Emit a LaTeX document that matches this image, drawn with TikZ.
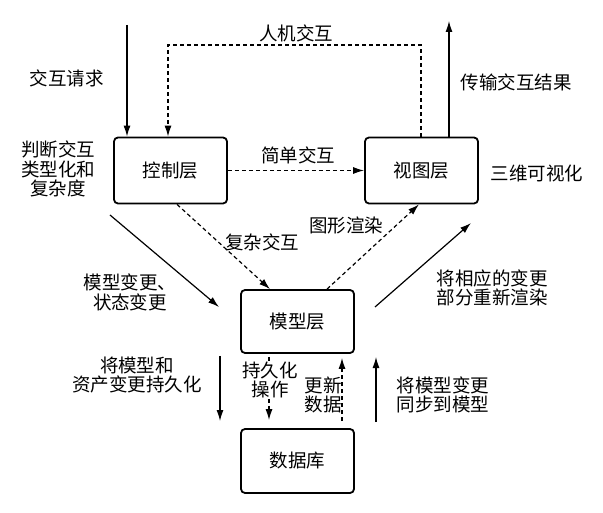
\documentclass[tikz,border=0pt]{standalone}
\usepackage{fontspec}
\setmainfont{Noto Sans CJK SC}
\usetikzlibrary{arrows.meta,calc}
\tikzset{
  nd_layer/.style={
    rectangle, rounded corners=4pt,
    draw=black, line width=1.8pt,
    minimum width=113pt, minimum height=66pt, inner sep=0pt,
    font=\fontsize{18.5}{19.5}\selectfont},
  arr/.style={-{Latex[length=11pt,width=7pt]},line width=1.2pt},
  arr_d/.style={arr,dash pattern=on 4pt off 3pt},
  lbl/.style={font=\fontsize{18.5}{19.5}\selectfont,align=center,inner sep=0pt},
}

\begin{document}
\begin{tikzpicture}[x=1pt,y=-1pt]
\useasboundingbox (0,0) rectangle (603,513);

%% layers
\node[nd_layer] at (170.5,170.5) (ctrl){控制层};
\node[nd_layer] at (421.5,170.5) (view){视图层};
\node[nd_layer,minimum height=63pt] at (297.5,321.5) (model){模型层};
\node[nd_layer,minimum height=64pt] at (297.5,461)   (db){数据库};

%% free ends
\coordinate (inTop)  at (127,25);
\coordinate (outTop) at (449,21);
\coordinate (loopL)  at (168,45);
\coordinate (loopR)  at (421,45);
\coordinate (chgA) at (110,215); \coordinate (chgB) at (219,307);
\coordinate (rndA) at (375,307); \coordinate (rndB) at (471,223);
\coordinate (perA) at (220,356); \coordinate (perB) at (220,421);
\coordinate (synA) at (376,422); \coordinate (synB) at (376,357);

%% arrows
\draw[arr] (inTop) -- (inTop |- ctrl.north);
\draw[arr_d] (loopR |- view.north) -- (loopR) -- (loopL) -- (loopL |- ctrl.north);
\draw[arr] (outTop |- view.north) -- (outTop);
\draw[arr_d] (ctrl) -- (view);
\draw[arr_d] ([xshift=6.5pt]ctrl.south) -- ([xshift=-27.5pt]model.north);
\draw[arr_d] ([xshift=29.5pt]model.north) -- ([xshift=-2.5pt]view.south);
\draw[arr] (chgA) -- (chgB);
\draw[arr] (rndA) -- (rndB);
\draw[arr] (perA) -- (perB);
\draw[arr_d,shorten <=3pt,shorten >=8pt]
  ([xshift=-28.5pt]model.south) -- ([xshift=-28.5pt]db.north);
\draw[arr_d,shorten <=7pt,shorten >=4pt]
  ([xshift=44.5pt]db.north) -- ([xshift=44.5pt]model.south);
\draw[arr] (synA) -- (synB);

%% labels
\node[lbl] at (296,33)    (tHci){人机交互};
\node[lbl] at (67,78)     (tReq){交互请求};
\node[lbl] at (516,82)    (tOut){传输交互结果};
\node[lbl] at (58,169)    (tJudge){判断交互\\类型化和\\复杂度};
\node[lbl] at (298,155)   (tSimple){简单交互};
\node[lbl] at (537,173)   (t3d){三维可视化};
\node[lbl] at (346,225)   (tRender){图形渲染};
\node[lbl] at (262,242)   (tComplex){复杂交互};
\node[lbl] at (130,292.5) (tChg){模型变更、\\状态变更};
\node[lbl] at (492,288)   (tRe){将相应的变更\\部分重新渲染};
\node[lbl] at (137,375)   (tPersist){将模型和\\资产变更持久化};
\node[lbl,fill=white] at (270,380) (tOp){持久化\\操作};
\node[lbl] at (323,395)   (tUpd){更新\\数据};
\node[lbl] at (443,395)   (tSync){将模型变更\\同步到模型};

\end{tikzpicture}
\end{document}
